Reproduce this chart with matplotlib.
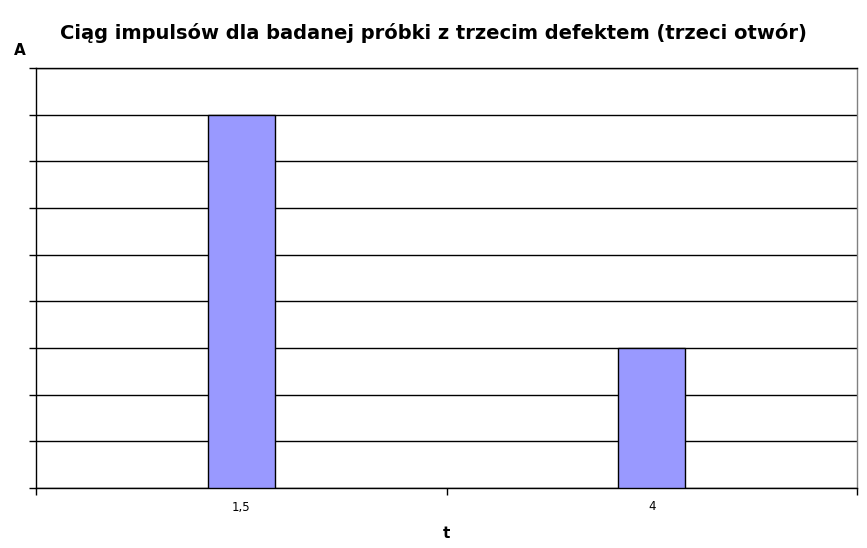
import matplotlib.pyplot as plt
import numpy as np

# data
categories = ["1,5", "4"]
values = [8, 3]
y_max = 9

fig = plt.figure(figsize=(8.67, 5.48), dpi=100)
ax = fig.add_axes([36 / 867, 60 / 548, 821 / 867, 420 / 548])

x = np.arange(len(categories))
ax.bar(x, values, width=0.163, color="#9999ff", edgecolor="black", linewidth=1.0, zorder=3)

ax.set_xlim(-0.5, len(categories) - 0.5)
ax.set_ylim(0, y_max)

# y grid + ticks without labels
ax.set_yticks(np.arange(0, y_max + 1))
ax.set_yticklabels([])
ax.yaxis.grid(True, color="black", linewidth=1.0, zorder=0)
ax.tick_params(axis="y", direction="out", length=5, width=1)

# category boundaries get the tick marks, labels sit in the middle
ax.set_xticks(np.arange(-0.5, len(categories), 1.0))
ax.set_xticklabels([])
ax.set_xticks(x, minor=True)
ax.set_xticklabels(categories, minor=True, fontsize=8.5)
ax.tick_params(axis="x", which="major", direction="out", length=5, width=1, colors="black")
ax.tick_params(axis="x", which="minor", length=0, pad=9)

for side in ["left", "bottom", "top"]:
    ax.spines[side].set_color("black")
    ax.spines[side].set_linewidth(1.0)
ax.spines["right"].set_color("#808080")
ax.spines["right"].set_linewidth(1.0)

fig.text(433 / 867, 1 - 33 / 548, "Ciąg impulsów dla badanej próbki z trzecim defektem (trzeci otwór)",
         ha="center", va="center", fontsize=14, fontweight="bold")
fig.text(20 / 867, 1 - 50 / 548, "A", ha="center", va="center", fontsize=11, fontweight="bold")
fig.text(446 / 867, 1 - 533 / 548, "t", ha="center", va="center", fontsize=11, fontweight="bold")

fig.savefig("out.png", dpi=100)
